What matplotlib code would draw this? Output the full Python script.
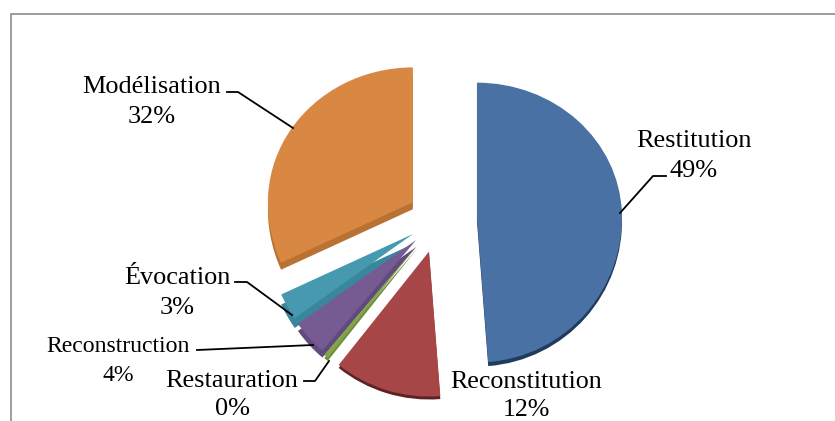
import matplotlib
matplotlib.use('Agg')
import matplotlib.pyplot as plt
from matplotlib.patches import Polygon

# parts dans le sens horaire a partir du haut
categories = ['Restitution', 'Reconstitution', 'Restauration', 'Reconstruction', 'Évocation', 'Modélisation']
valeurs = [49, 12, 0.49, 4, 3, 32]
eclatement = [38, 34, 33, 31, 30, 31]

couleurs = ['#4a71a3', '#a64646', '#83a346', '#765b92', '#4699af', '#d98843']
couleurs_bord = ['#1f3b5e', '#5e2222', '#6f8c3a', '#614a7e', '#39879d', '#b97233']
profondeurs = [4, 3, 3, 7, 10, 7]

W, H = 835, 421
CENTRE = (439, H - 219)
RAYON = 145
ECRASEMENT = 0.93  # le haut du disque est plus loin, effet 3D

# position du texte (centre) et trait de rappel, en pixels de l'image
pos_textes = [(694, 156), (526, 396), (232, 395), (118, 361), (177, 293), (152, 102)]
tailles = [18.9, 18.7, 18.9, 17.1, 18.9, 18.9]
interlignes = [1.45, 1.35, 1.35, 1.45, 1.45, 1.45]
rappels = [
    [(666, 176), (653, 176), (620, 213)],
    [],
    [(304, 381), (315, 381), (329, 361)],
    [(197, 350), (313, 345)],
    [(235, 282), (247, 282), (292, 315)],
    [(227, 92), (238, 92), (293, 128)],
]


def part_3d(wedge):
    """Contour d'une part avec le haut ecrase"""
    xy = wedge.get_path().to_polygons(closed_only=True)[0].copy()
    cy = wedge.center[1]
    haut = xy[:, 1] > cy
    xy[haut, 1] = cy + (xy[haut, 1] - cy) * ECRASEMENT
    return xy


fig = plt.figure(figsize=(W / 100, H / 100), dpi=100)
ax = fig.add_axes([0, 0, 1, 1])

wedges, _ = ax.pie(valeurs, explode=eclatement, radius=RAYON, center=CENTRE,
                   startangle=90, counterclock=False, normalize=True, frame=True)
ax.set_aspect('auto')
ax.set_xlim(0, W)
ax.set_ylim(0, H)
ax.axis('off')

# cadre du graphique : seulement a gauche et en haut
ax.plot([10.5, 10.5, W], [0, H - 13.5, H - 13.5], color='#8c8c8c', linewidth=1.2)

# de la derniere part vers la premiere : chaque part recouvre le flanc de la precedente
for i in range(len(wedges) - 1, -1, -1):
    xy = part_3d(wedges[i])
    wedges[i].remove()
    ax.add_patch(Polygon(xy - [0, profondeurs[i]], closed=True, facecolor=couleurs_bord[i], edgecolor='none', zorder=2))
    ax.add_patch(Polygon(xy, closed=True, facecolor=couleurs[i], edgecolor='none', zorder=2))

for i, nom in enumerate(categories):
    x, y = pos_textes[i]
    ax.text(x, H - y, f"{nom}\n{round(valeurs[i])}%", ha='center', va='center', color='black',
            fontsize=tailles[i], family='Liberation Serif', linespacing=interlignes[i], zorder=5)
    if rappels[i]:
        lx, ly = zip(*rappels[i])
        ax.plot(lx, [H - v for v in ly], color='black', linewidth=1.3, zorder=4)

fig.savefig('out.png', dpi=100, facecolor='white')
